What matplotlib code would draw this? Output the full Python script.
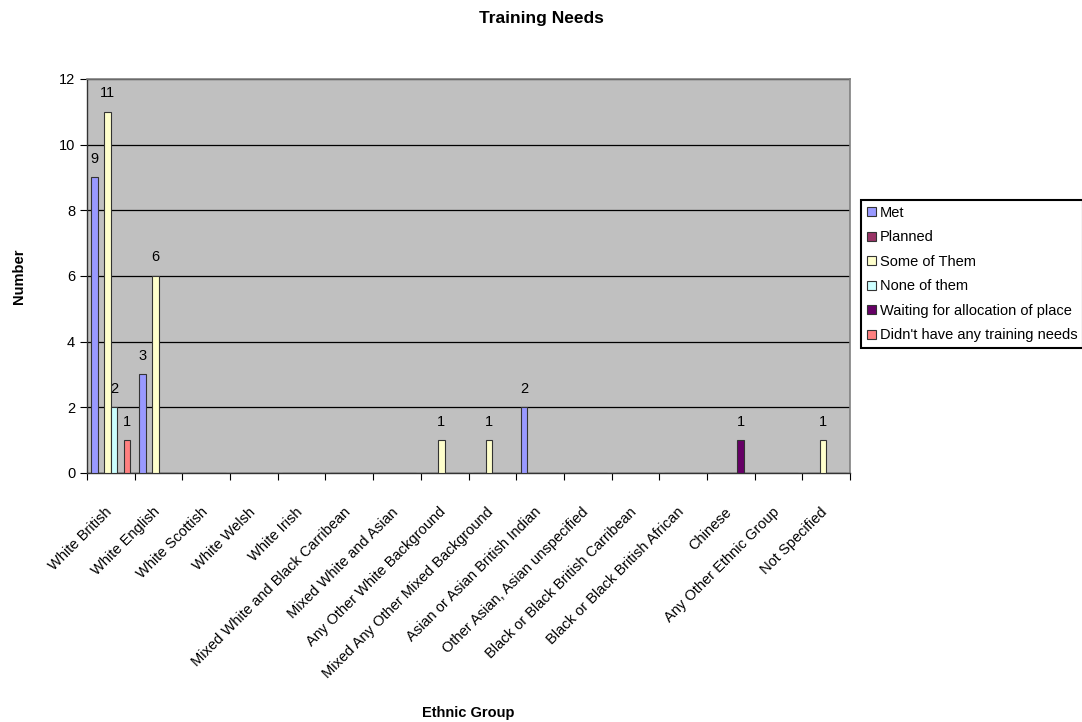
import numpy as np
import matplotlib.pyplot as plt
from matplotlib.ticker import MultipleLocator
from matplotlib.transforms import ScaledTranslation

plt.rcParams['font.family'] = ['Liberation Sans', 'DejaVu Sans']

groups = ["White British", "White English", "White Scottish", "White Welsh", "White Irish",
          "Mixed White and Black Carribean", "Mixed White and Asian",
          "Any Other White Background", "Mixed Any Other Mixed Background",
          "Asian or Asian British Indian", "Other Asian, Asian unspecified",
          "Black or Black British Carribean", "Black or Black British African",
          "Chinese", "Any Other Ethnic Group", "Not Specified"]

series_names = ["Met", "Planned", "Some of Them", "None of them",
                "Waiting for allocation of place", "Didn't have any training needs"]

met      = [9, 3, 0, 0, 0, 0, 0, 0, 0, 2, 0, 0, 0, 0, 0, 0]
planned  = [0, 0, 0, 0, 0, 0, 0, 0, 0, 0, 0, 0, 0, 0, 0, 0]
some     = [11, 6, 0, 0, 0, 0, 0, 1, 1, 0, 0, 0, 0, 0, 0, 1]
none     = [2, 0, 0, 0, 0, 0, 0, 0, 0, 0, 0, 0, 0, 0, 0, 0]
waiting  = [0, 0, 0, 0, 0, 0, 0, 0, 0, 0, 0, 0, 0, 1, 0, 0]
no_needs = [1, 0, 0, 0, 0, 0, 0, 0, 0, 0, 0, 0, 0, 0, 0, 0]

colors = ["#9999FF", "#993366", "#FFFFCC", "#CCFFFF", "#660066", "#FF8080"]

fs = 10.5

fig = plt.figure(figsize=(10.82, 7.22), dpi=100)
ax = fig.add_axes([0.0804, 0.3449, 0.7052, 0.5457])
ax.set_facecolor("#C0C0C0")

x = np.arange(len(groups))
width = 0.136
start = -width * 2.5
for i, (name, vals, c) in enumerate(zip(series_names,
                                         [met, planned, some, none, waiting, no_needs],
                                         colors)):
    pos = x + start + i * width
    ax.bar(pos, vals, width, color=c, edgecolor="#333333", linewidth=0.8,
           label=name, zorder=3)
    for p, v in zip(pos, vals):
        if v > 0:
            ax.text(p, v + 0.35, str(v), ha="center", va="bottom", fontsize=fs)

ax.set_xlim(-0.5, len(groups) - 0.5)
ax.set_ylim(0, 12)
ax.yaxis.set_major_locator(MultipleLocator(2))
ax.grid(axis="y", color="black", linewidth=0.9, zorder=1)

# labels at centres, tick marks at group boundaries
ax.set_xticks(x)
ax.set_xticklabels(groups, rotation=45, ha="right", rotation_mode="anchor", fontsize=fs)
ax.set_xticks(np.arange(-0.5, len(groups)), minor=True)
ax.tick_params(axis="x", which="major", length=0, pad=23)
ax.tick_params(axis="x", which="minor", length=5, width=0.8, direction="out")
ax.tick_params(axis="y", length=5, width=0.8, labelsize=fs, direction="out")
shift = ScaledTranslation(-6 / 100, 0, fig.dpi_scale_trans)
for lbl in ax.get_xticklabels():
    lbl.set_transform(lbl.get_transform() + shift)

for side in ["top", "right"]:
    ax.spines[side].set_color("#808080")
    ax.spines[side].set_linewidth(1.2)
for side in ["left", "bottom"]:
    ax.spines[side].set_color("#333333")
    ax.spines[side].set_linewidth(1.0)

fig.text(19 / 1082, 0.618, "Number", rotation=90, ha="center", va="center",
         fontsize=fs, fontweight="bold")
fig.text(0.4330, 0.0125, "Ethnic Group", ha="center", va="center",
         fontsize=fs, fontweight="bold")
fig.text(0.5, 0.974, "Training Needs", ha="center", va="center",
         fontsize=12.5, fontweight="bold")

leg = fig.legend(loc="upper left", bbox_to_anchor=(0.7957, 0.723), fontsize=fs,
                 fancybox=False, edgecolor="black", framealpha=1,
                 handlelength=0.6, handleheight=0.6, handletextpad=0.3,
                 labelspacing=0.72, borderpad=0.4, borderaxespad=0)
leg.get_frame().set_linewidth(1.5)

fig.savefig("out.png", dpi=100)
